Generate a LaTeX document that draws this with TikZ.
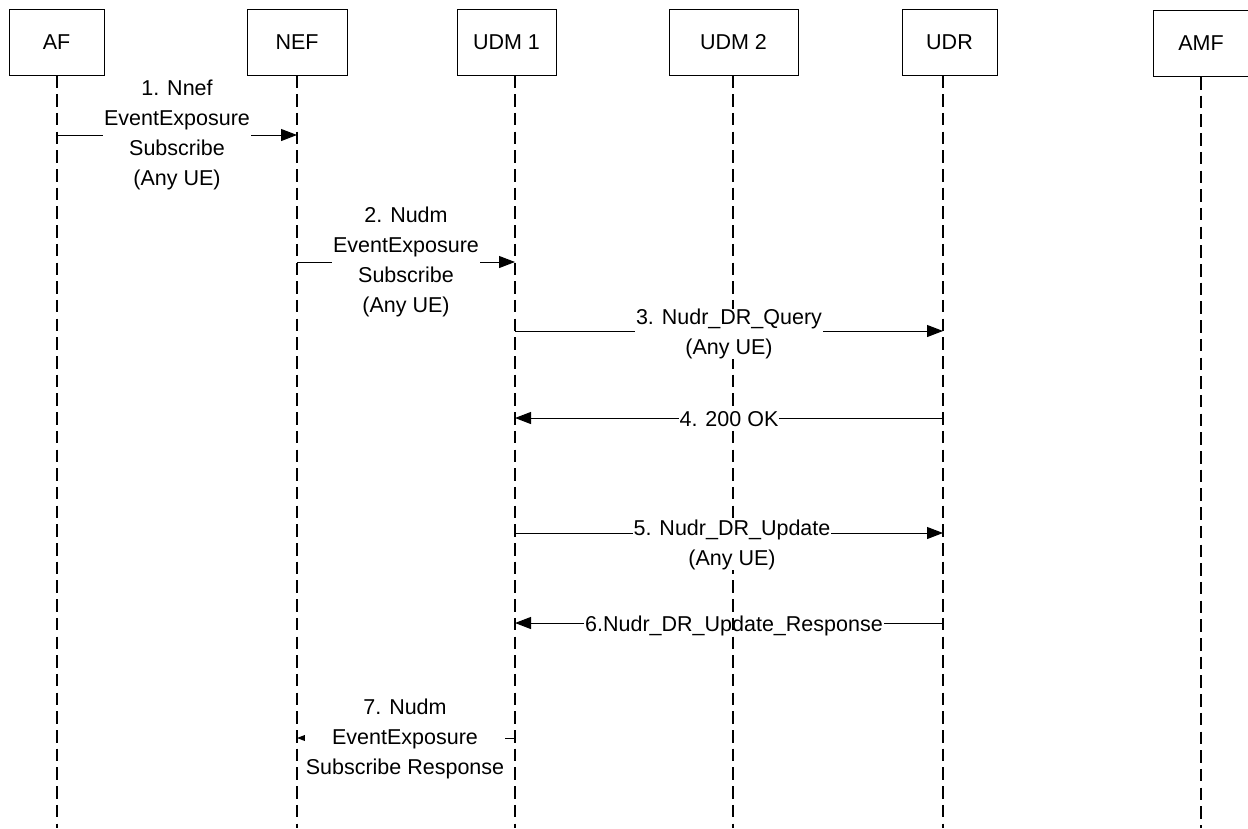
\documentclass[tikz,border=0pt]{standalone}
\usepackage{fontspec}
\setmainfont{Liberation Sans}
\usetikzlibrary{arrows.meta}
\begin{document}
\begin{tikzpicture}[x=1pt,y=-1pt,
  actor/.style={draw,line width=1pt,minimum height=66pt,inner sep=0pt,font=\fontsize{21.5}{26}\selectfont},
  lifeline/.style={line width=1.2pt,dash pattern=on 12.5pt off 6.2pt},
  msg/.style={line width=1pt,-{Triangle[length=16pt,width=12pt]}},
  lbl/.style={fill=white,inner xsep=1pt,inner ysep=0pt,align=center,font=\fontsize{21.5}{30}\selectfont}]
\useasboundingbox (0,0) rectangle (1248,828);
% participants
\node[actor,minimum width=95pt] (af) at (56.5,42) {AF};
\node[actor,minimum width=100pt] (nef) at (297,42) {NEF};
\node[actor,minimum width=99pt] (udm1) at (506.5,42) {UDM 1};
\node[actor,minimum width=129pt] (udm2) at (733.5,42) {UDM 2};
\node[actor,minimum width=95pt] (udr) at (949.5,42) {UDR};
\node[actor,minimum width=96pt] (amf) at (1201,43.5) {AMF};
% lifeline x positions
\coordinate (xaf) at (57,0);
\coordinate (xnef) at (297,0);
\coordinate (xudm1) at (515,0);
\coordinate (xudm2) at (733,0);
\coordinate (xudr) at (943,0);
\coordinate (xamf) at (1201,0);
\coordinate (bot) at (0,828);
% message end points
\coordinate (m1s) at (57,135);   \coordinate (m1e) at (297,135);
\coordinate (m2s) at (297,262);  \coordinate (m2e) at (515,262);
\coordinate (m3s) at (515,331);  \coordinate (m3e) at (943,331);
\coordinate (m4s) at (943,418);  \coordinate (m4e) at (515,418);
\coordinate (m5s) at (515,533);  \coordinate (m5e) at (943,533);
\coordinate (m6s) at (943,623);  \coordinate (m6e) at (515,623);
\coordinate (m7s) at (515,738);  \coordinate (m7e) at (297,738);
% message 6 (lifeline of UDM 2 passes over its label)
\draw[msg] (m6s) -- (m6e);
\node[lbl,anchor=base] (l6) at (734,631) {6.Nudr\_DR\_Update\_Response};
% lifelines
\draw[lifeline] (af.south -| xaf) -- (xaf |- bot);
\draw[lifeline] (nef.south -| xnef) -- (xnef |- bot);
\draw[lifeline] (udm1.south -| xudm1) -- (xudm1 |- bot);
\draw[lifeline] (udm2.south -| xudm2) -- (xudm2 |- bot);
\draw[lifeline] (udr.south -| xudr) -- (xudr |- bot);
\draw[lifeline] (amf.south -| xamf) -- (xamf |- bot);
% messages
\draw[msg] (m1s) -- (m1e);
\node[lbl] (l1) at (177,135) {1. Nnef\\EventExposure\\Subscribe\\(Any UE)};
\draw[msg] (m2s) -- (m2e);
\node[lbl] (l2) at (406,262) {2. Nudm\\EventExposure\\Subscribe\\(Any UE)};
\draw[msg] (m3s) -- (m3e);
\node[lbl] (l3) at (729,334) {3. Nudr\_DR\_Query\\(Any UE)};
\draw[msg] (m4s) -- (m4e);
\node[lbl,anchor=base] (l4) at (729,426) {4. 200 OK};
\draw[msg] (m5s) -- (m5e);
\node[lbl] (l5) at (732,545) {5. Nudr\_DR\_Update\\(Any UE)};
\draw[msg] (m7s) -- (m7e);
\node[lbl] (l7) at (405,739) {7. Nudm\\EventExposure\\Subscribe Response};
\end{tikzpicture}
\end{document}
